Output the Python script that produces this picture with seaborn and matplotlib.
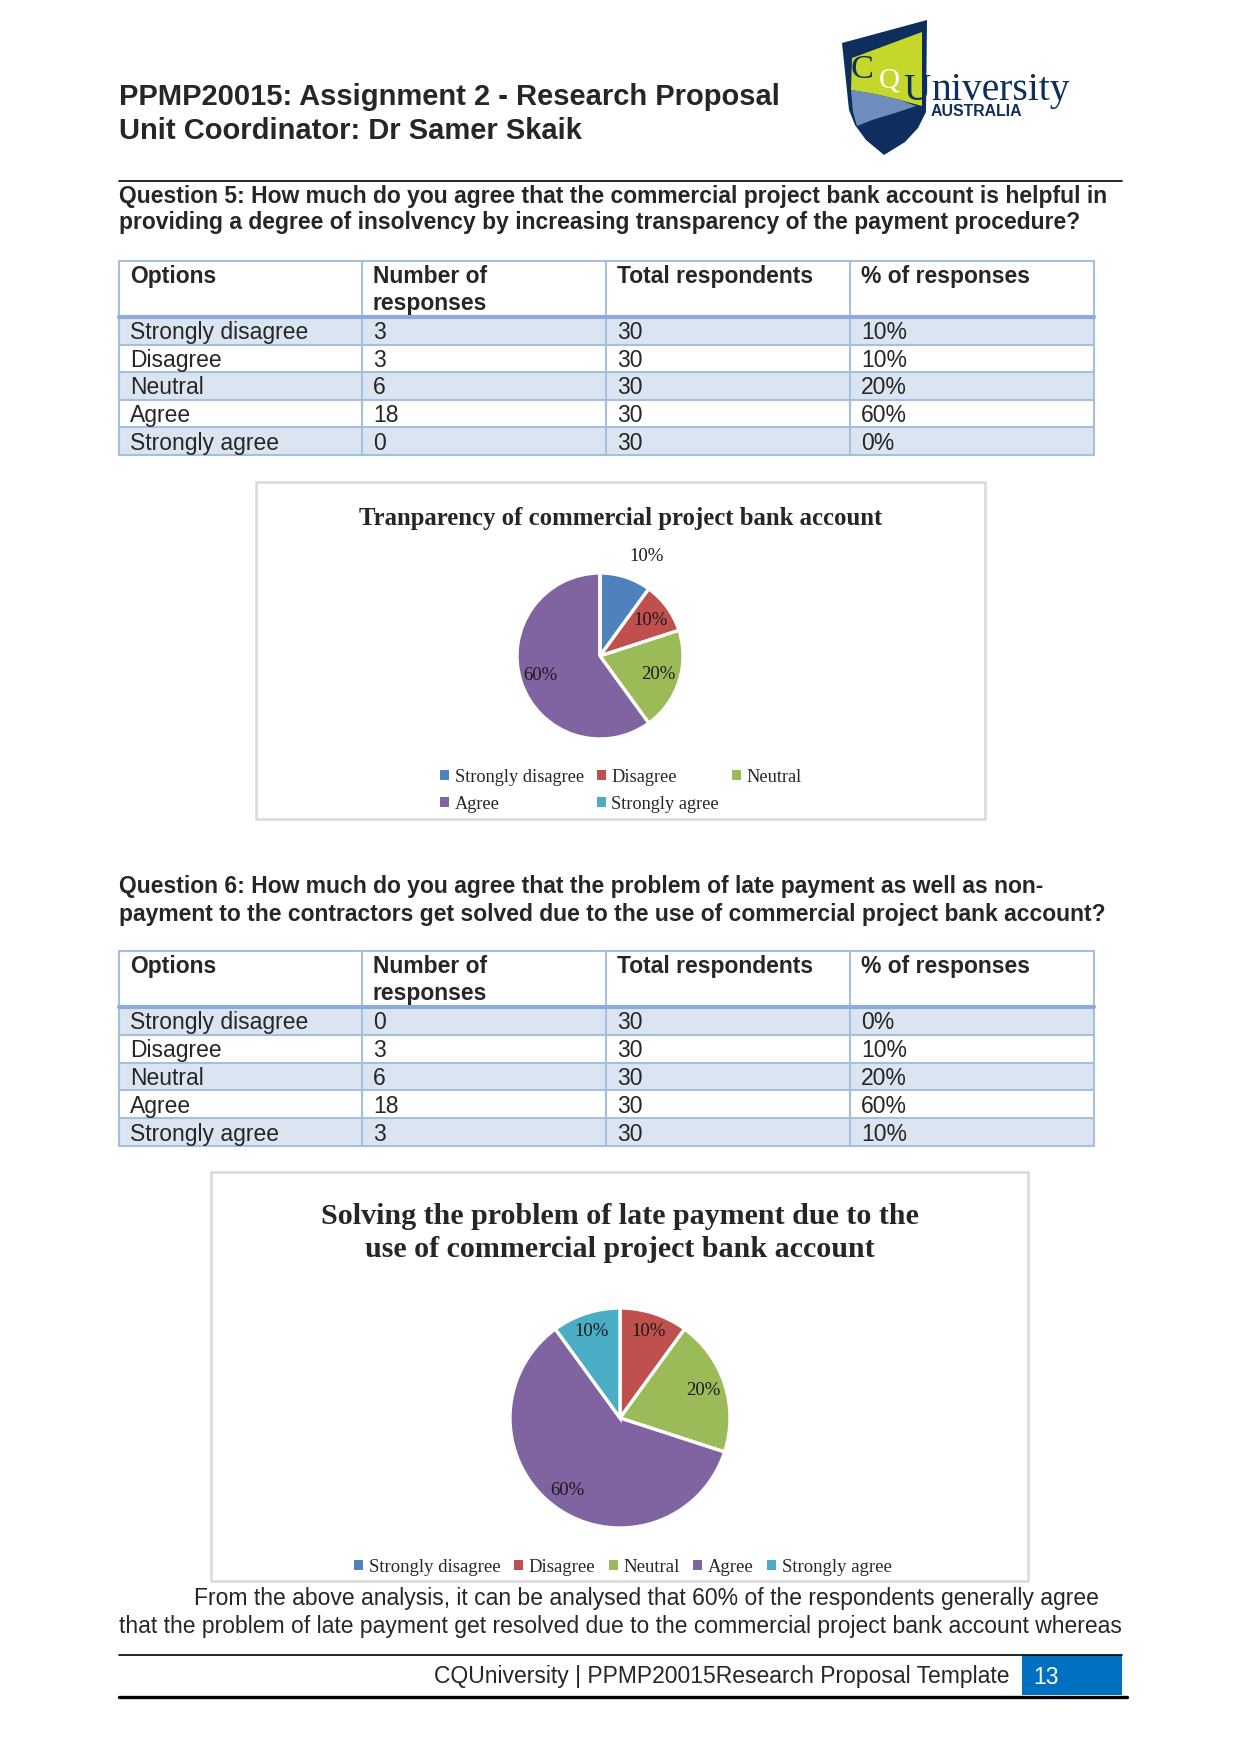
import numpy as np
import pandas as pd
import seaborn as sns
import matplotlib
matplotlib.use("Agg")
import matplotlib.pyplot as plt
from matplotlib.patches import Rectangle, Polygon, Patch

# ---------------- data ----------------
options = ["Strongly disagree", "Disagree", "Neutral", "Agree", "Strongly agree"]
total_respondents = 30
q5_counts = [3, 3, 6, 18, 0]
q5_pct = [10, 10, 20, 60, 0]
q6_counts = [0, 3, 6, 18, 3]
q6_pct = [0, 10, 20, 60, 10]
table_headers = ["Options", "Number of\nresponses", "Total respondents", "% of responses"]
slice_colors = ["#4F81BD", "#C0504D", "#9BBB59", "#8064A2", "#4BACC6"]

header_line1 = "PPMP20015: Assignment 2 - Research Proposal"
header_line2 = "Unit Coordinator: Dr Samer Skaik"
q5_text = ["Question 5: How much do you agree that the commercial project bank account is helpful in",
           "providing a degree of insolvency by increasing transparency of the payment procedure?"]
q6_text = ["Question 6: How much do you agree that the problem of late payment as well as non-",
           "payment to the contractors get solved due to the use of commercial project bank account?"]
chart1_title = "Tranparency of commercial project bank account"
chart2_title = "Solving the problem of late payment due to the\nuse of commercial project bank account"
body_lines = ["From the above analysis, it can be analysed that 60% of the respondents generally agree",
              "that the problem of late payment get resolved due to the commercial project bank account whereas"]
footer_text = "CQUniversity | PPMP20015Research Proposal Template"
page_number = "13"

# ---------------- setup ----------------
sns.set_theme(style="white")
SANS = ["Liberation Sans", "DejaVu Sans"]
SERIF = ["Liberation Serif", "DejaVu Serif"]
plt.rcParams["font.family"] = SANS

W, H, DPI = 1241, 1754, 150
fig = plt.figure(figsize=(W / DPI, H / DPI), dpi=DPI)
fig.patch.set_facecolor("white")
page = fig.add_axes([0, 0, 1, 1])
page.set_xlim(0, W)
page.set_ylim(H, 0)
page.axis("off")


def fx(x):
    return x / W


def fy(y):
    return 1 - y / H


# ---------------- header ----------------
page.text(119, 97, header_line1, fontsize=14, fontweight="bold", va="center", ha="left", family=SANS)
page.text(119, 131, header_line2, fontsize=14, fontweight="bold", va="center", ha="left", family=SANS)

# logo
NAVY = "#0E2F5E"
LIME = "#C5D72B"
BLUEG = "#6F8EBD"
shield = [(842, 43), (927, 20), (926, 112), (918, 128), (905, 142), (884, 155),
          (866, 140), (855, 125), (849, 110)]
page.add_patch(Polygon(shield, closed=True, facecolor=NAVY, edgecolor="none"))
lime = [(852, 58), (922, 32), (922, 106), (900, 100), (875, 94), (851, 90)]
page.add_patch(Polygon(lime, closed=True, facecolor=LIME, edgecolor="none"))
blueg = [(851, 90), (875, 94), (900, 100), (916, 106), (895, 113), (872, 120), (857, 126), (853, 112)]
page.add_patch(Polygon(blueg, closed=True, facecolor=BLUEG, edgecolor="none"))
page.text(851, 70, "C", fontsize=16.5, color=NAVY, family=SERIF, va="center", ha="left")
page.text(879, 80, "Q", fontsize=14, color="white", family=SERIF, va="center", ha="left")
page.text(903, 100, "U", fontsize=18, color=NAVY, family=SERIF, va="baseline", ha="left")
page.text(931, 100, "niversity", fontsize=19, color=NAVY, family=SERIF, va="baseline", ha="left")
page.text(931, 112, "AUSTRALIA", fontsize=7.6, color=NAVY, family=SANS, fontweight="bold",
          va="center", ha="left")

# rule under header
page.plot([119, 1122], [181, 181], color="black", lw=0.8)

# ---------------- questions ----------------
for i, line in enumerate(q5_text):
    page.text(119, 197 + 26 * i, line, fontsize=11, fontweight="bold", va="center", ha="left")
for i, line in enumerate(q6_text):
    page.text(119, 887 + 27 * i, line, fontsize=11, fontweight="bold", va="center", ha="left")

# ---------------- tables ----------------
COLS = [119, 362, 606, 850, 1094]
BORDER = "#A7BFDE"
HEADLINE = "#8EAADB"
ROWFILL = "#DBE5F1"


def draw_table(top, hdr_bottom, bottom, counts, pcts):
    n = len(options)
    row_h = (bottom - hdr_bottom) / n
    for r in range(n):
        y0 = hdr_bottom + r * row_h
        if r % 2 == 0:
            page.add_patch(Rectangle((COLS[0], y0), COLS[-1] - COLS[0], row_h,
                                     facecolor=ROWFILL, edgecolor="none"))
        vals = [options[r], str(counts[r]), str(total_respondents), f"{pcts[r]}%"]
        for c, v in enumerate(vals):
            page.text(COLS[c] + 11, y0 + row_h / 2 + 2, v, fontsize=11, va="center", ha="left")
        page.plot([COLS[0], COLS[-1]], [y0 + row_h, y0 + row_h], color=BORDER, lw=1.0)
    for c, h in enumerate(table_headers):
        page.text(COLS[c] + 11, top + 4, h, fontsize=11, fontweight="bold", va="top", ha="left",
                  linespacing=1.22)
    page.plot([COLS[0], COLS[-1]], [top, top], color=BORDER, lw=1.0)
    for x in COLS:
        page.plot([x, x], [top, bottom], color=BORDER, lw=1.0)
    page.plot([COLS[0], COLS[-1]], [hdr_bottom, hdr_bottom], color=HEADLINE, lw=2.0)


draw_table(261, 317, 455, q5_counts, q5_pct)
draw_table(951, 1007, 1146, q6_counts, q6_pct)


# ---------------- pie charts ----------------
def draw_pie(cx, cy, r, values, label_pos, title, title_y, title_size, box, legend_xy, ncol, order,
             legend_size):
    page.add_patch(Rectangle((box[0], box[1]), box[2] - box[0], box[3] - box[1],
                             facecolor="white", edgecolor="#D9D9D9", lw=1.2))
    page.text((box[0] + box[2]) / 2, title_y, title, fontsize=title_size, fontweight="bold",
              family=SERIF, va="center", ha="center", linespacing=1.3)
    ax = fig.add_axes([fx(cx - r), fy(cy + r), 2 * r / W, 2 * r / H])
    wedges, _ = ax.pie(values, colors=slice_colors, startangle=90, counterclock=False,
                       wedgeprops=dict(edgecolor="white", linewidth=1.6), radius=1)
    ax.set_xlim(-1, 1)
    ax.set_ylim(-1, 1)
    ax.axis("off")
    for w, v, (d, da) in zip(wedges, values, label_pos):
        if v == 0:
            continue
        ang = np.deg2rad((w.theta1 + w.theta2) / 2 + da)
        ax.text(d * np.cos(ang), d * np.sin(ang), f"{v}%", fontsize=9, family=SERIF,
                ha="center", va="center", color="#1a1a1a")
    handles = [Patch(facecolor=slice_colors[i], edgecolor="none") for i in order]
    labels = [options[i] for i in order]
    fig.legend(handles, labels, loc="upper left", bbox_to_anchor=(fx(legend_xy[0]), fy(legend_xy[1])),
               ncol=ncol, frameon=False, borderpad=0, borderaxespad=0,
               handlelength=0.5, handleheight=0.5, handletextpad=0.3, columnspacing=0.7,
               labelspacing=0.55, prop=dict(family=SERIF, size=legend_size))


draw_pie(600, 656, 83, q5_pct, [(1.32, -7), (0.74, -1), (0.74, 0), (0.76, 0), (0.75, 0)],
         chart1_title, 519, 11.9, (256, 482, 985, 819), (440, 768.5), 3, [0, 3, 1, 4, 2], 8.8)
draw_pie(620, 1418, 110, q6_pct, [(0.82, 0), (0.83, 0), (0.8, 0), (0.82, 0), (0.83, 0)],
         chart2_title, 1233, 14.4, (211, 1172, 1028, 1581), (354, 1558.5), 5, [0, 1, 2, 3, 4], 9)

# ---------------- body text ----------------
page.text(194, 1599, body_lines[0], fontsize=11, va="center", ha="left")
page.text(119, 1626, body_lines[1], fontsize=11, va="center", ha="left")

# ---------------- footer ----------------
page.plot([119, 1122], [1655, 1655], color="black", lw=0.8)
page.add_patch(Rectangle((1022, 1655), 100, 40, facecolor="#0070C0", edgecolor="none"))
page.plot([119, 1127], [1697, 1697], color="black", lw=1.6)
page.text(1009, 1677, footer_text, fontsize=11, va="center", ha="right")
page.text(1033, 1677, page_number, fontsize=11, va="center", ha="left", color="white")

fig.savefig("out.png", dpi=DPI, facecolor="white")
